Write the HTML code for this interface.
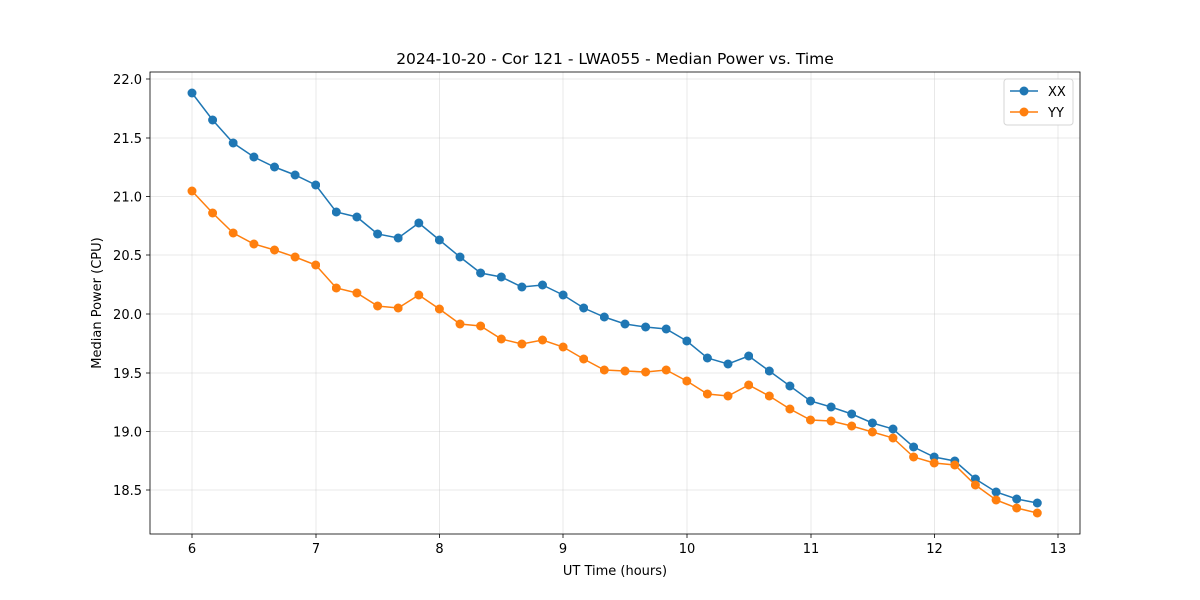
<!DOCTYPE html>
<html><head><meta charset="utf-8"><style>body{margin:0;background:#fff}svg{display:block}text{font-family:"DejaVu Sans","Liberation Sans",sans-serif;fill:#000}</style></head>
<body>
<svg width="1200" height="600" viewBox="0 0 1200 600" xmlns="http://www.w3.org/2000/svg">
<defs>
<marker id="mb" viewBox="0 0 10 10" refX="5" refY="5" markerWidth="9" markerHeight="9" markerUnits="userSpaceOnUse"><circle cx="5" cy="5" r="5" fill="#1f77b4"/></marker>
<marker id="mo" viewBox="0 0 10 10" refX="5" refY="5" markerWidth="9" markerHeight="9" markerUnits="userSpaceOnUse"><circle cx="5" cy="5" r="5" fill="#ff7f0e"/></marker>
</defs>
<rect width="1200" height="600" fill="#fff"/>
<g stroke="#b0b0b0" stroke-opacity="0.35" stroke-width="0.8">
<line x1="192" y1="72" x2="192" y2="534"/><line x1="316" y1="72" x2="316" y2="534"/><line x1="439.5" y1="72" x2="439.5" y2="534"/><line x1="563" y1="72" x2="563" y2="534"/><line x1="687" y1="72" x2="687" y2="534"/><line x1="811" y1="72" x2="811" y2="534"/><line x1="934.5" y1="72" x2="934.5" y2="534"/><line x1="1058" y1="72" x2="1058" y2="534"/>
<line x1="150" y1="79" x2="1080" y2="79"/><line x1="150" y1="138" x2="1080" y2="138"/><line x1="150" y1="196.5" x2="1080" y2="196.5"/><line x1="150" y1="255" x2="1080" y2="255"/><line x1="150" y1="314" x2="1080" y2="314"/><line x1="150" y1="373" x2="1080" y2="373"/><line x1="150" y1="431.5" x2="1080" y2="431.5"/><line x1="150" y1="490" x2="1080" y2="490"/>
</g>
<rect x="150" y="72" width="930" height="462" fill="none" stroke="#000" stroke-width="0.8"/>
<g stroke="#000" stroke-width="0.8">
<line x1="192" y1="534" x2="192" y2="538"/><line x1="316" y1="534" x2="316" y2="538"/><line x1="439.5" y1="534" x2="439.5" y2="538"/><line x1="563" y1="534" x2="563" y2="538"/><line x1="687" y1="534" x2="687" y2="538"/><line x1="811" y1="534" x2="811" y2="538"/><line x1="934.5" y1="534" x2="934.5" y2="538"/><line x1="1058" y1="534" x2="1058" y2="538"/>
<line x1="146" y1="79" x2="150" y2="79"/><line x1="146" y1="138" x2="150" y2="138"/><line x1="146" y1="196.5" x2="150" y2="196.5"/><line x1="146" y1="255" x2="150" y2="255"/><line x1="146" y1="314" x2="150" y2="314"/><line x1="146" y1="373" x2="150" y2="373"/><line x1="146" y1="431.5" x2="150" y2="431.5"/><line x1="146" y1="490" x2="150" y2="490"/>
</g>
<g font-size="13" text-anchor="middle">
<text x="192" y="553">6</text><text x="316" y="553">7</text><text x="439.5" y="553">8</text><text x="563" y="553">9</text><text x="687" y="553">10</text><text x="811" y="553">11</text><text x="934.5" y="553">12</text><text x="1058" y="553">13</text>
</g>
<g font-size="13" text-anchor="end">
<text x="142" y="84">22.0</text><text x="142" y="143">21.5</text><text x="142" y="201.5">21.0</text><text x="142" y="260">20.5</text><text x="142" y="319">20.0</text><text x="142" y="378">19.5</text><text x="142" y="436.5">19.0</text><text x="142" y="495">18.5</text>
</g>
<text x="615" y="575" font-size="13" text-anchor="middle">UT Time (hours)</text>
<text transform="translate(101,303) rotate(-90)" font-size="13" text-anchor="middle">Median Power (CPU)</text>
<text x="615" y="64" font-size="15.5" text-anchor="middle">2024-10-20 - Cor 121 - LWA055 - Median Power vs. Time</text>
<polyline fill="none" stroke="#1f77b4" stroke-width="1.5" marker-start="url(#mb)" marker-mid="url(#mb)" marker-end="url(#mb)" points="192,93 212.6,120 233.2,143 253.9,157 274.5,167 295.1,175 315.7,185 336.3,212 356.9,217 377.6,234 398.2,238 418.8,223 439.4,240 460,257 480.6,273 501.3,277 521.9,287 542.5,285 563.1,295 583.7,308 604.3,317 625,324 645.6,327 666.2,329 686.8,341 707.4,358 728,364 748.7,356 769.3,371 789.9,386 810.5,401 831.1,407 851.7,414 872.4,423 893,429 913.6,447 934.2,457 954.8,461 975.4,479 996.1,492 1016.7,499 1037.3,503"/>
<polyline fill="none" stroke="#ff7f0e" stroke-width="1.5" marker-start="url(#mo)" marker-mid="url(#mo)" marker-end="url(#mo)" points="192,191 212.6,213 233.2,233 253.9,244 274.5,250 295.1,257 315.7,265 336.3,288 356.9,293 377.6,306 398.2,308 418.8,295 439.4,309 460,324 480.6,326 501.3,339 521.9,344 542.5,340 563.1,347 583.7,359 604.3,370 625,371 645.6,372 666.2,370 686.8,381 707.4,394 728,396 748.7,385 769.3,396 789.9,409 810.5,420 831.1,421 851.7,426 872.4,432 893,438 913.6,457 934.2,463 954.8,465 975.4,485 996.1,500 1016.7,508 1037.3,513"/>
<rect x="1004" y="79" width="69" height="46" rx="3" fill="#fff" stroke="#ccc" stroke-opacity="0.8"/>
<line x1="1010" y1="91" x2="1038" y2="91" stroke="#1f77b4" stroke-width="1.5"/><circle cx="1024" cy="91" r="4.5" fill="#1f77b4"/>
<line x1="1010" y1="112" x2="1038" y2="112" stroke="#ff7f0e" stroke-width="1.5"/><circle cx="1024" cy="112" r="4.5" fill="#ff7f0e"/>
<text x="1048" y="96" font-size="13">XX</text><text x="1048" y="117" font-size="13">YY</text>
</svg>
</body></html>
